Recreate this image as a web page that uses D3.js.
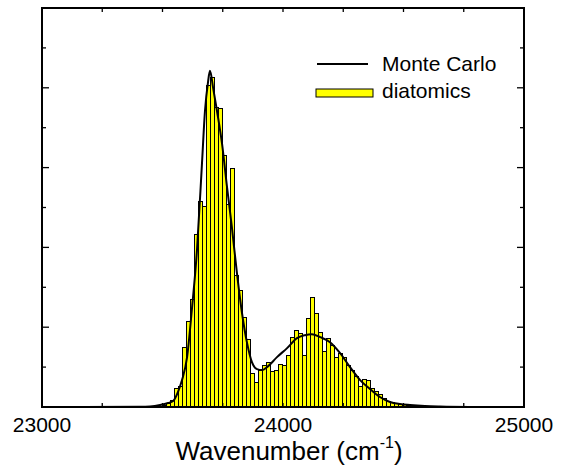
<!DOCTYPE html>
<html>
<head>
<meta charset="utf-8">
<script src="https://cdn.jsdelivr.net/npm/d3@7"></script>
<style>
  body { margin: 0; background: #fff; }
  svg { display: block; font-family: "Liberation Sans", Arial, sans-serif; }
</style>
</head>
<body>
<svg width="564" height="466"></svg>
<script>
// histogram of the diatomics (bin left edge + width, counts per bin)
const binStart = 23485;
const binWidth = 16.6;
const counts = [
  1, 2, 4, 7, 19, 21, 60, 86, 108, 173, 206, 201, 322, 330, 300, 299,
  252, 203, 239, 132, 117, 90, 68, 34, 25, 37, 42, 45, 36, 37, 43, 42,
  52, 70, 77, 74, 52, 89, 110, 94, 75, 56, 69, 62, 50, 54, 50, 42,
  37, 31, 21, 28, 27, 19, 16, 13, 9, 6, 5, 4, 3, 2.5, 2, 2,
  1.5, 1, 1, 0.8, 0.5, 0.5, 0.3
];

// Monte Carlo curve
const mcWavenumber = [
  23000, 23407, 23448, 23490, 23523, 23544, 23564, 23581, 23602, 23622,
  23643, 23664, 23676, 23689, 23697, 23710, 23726, 23747, 23768, 23788,
  23809, 23830, 23851, 23871, 23892, 23913, 23934, 23975, 24017, 24058,
  24091, 24120, 24154, 24195, 24237, 24278, 24320, 24361, 24402, 24444,
  24485, 24527, 24589, 24651, 24776, 25000
];
const mcIntensity = [
  0, 0.3, 0.6, 2, 4, 6, 15, 27, 50, 98,
  157, 245, 296, 326, 337, 320, 297, 264, 220, 180,
  134, 94, 64, 45, 38, 37, 40, 50, 59, 69,
  72, 73, 70, 65, 54, 40, 27, 18, 10, 5,
  3, 2, 1, 0.5, 0.1, 0
];

const xTicks = [23000, 23250, 23500, 23750, 24000, 24250, 24500, 24750, 25000];
const xTickLabels = [23000, 24000, 25000];
const yTicks = [0, 40, 80, 120, 160, 200, 240, 280, 320, 360, 400];

// plot box
const plotL = 42, plotR = 524, plotT = 8, plotB = 407;

const x = d3.scaleLinear().domain([23000, 25000]).range([plotL, plotR]);
const y = d3.scaleLinear().domain([0, 400]).range([plotB, plotT]);

const svg = d3.select("svg");

const bins = counts.map((c, i) => ({ x0: binStart + i * binWidth, x1: binStart + (i + 1) * binWidth, n: c }));

// bars
svg.append("g")
  .attr("shape-rendering", "crispEdges")
  .selectAll("rect")
  .data(bins)
  .join("rect")
  .attr("x", d => x(d.x0))
  .attr("y", d => y(d.n))
  .attr("width", d => x(d.x1) - x(d.x0))
  .attr("height", d => y(0) - y(d.n))
  .attr("fill", "#ffff00")
  .attr("stroke", "#000")
  .attr("stroke-width", 1);

// curve
const line = d3.line()
  .x((d, i) => x(mcWavenumber[i]))
  .y(d => y(d))
  .curve(d3.curveMonotoneX);

svg.append("path")
  .datum(mcIntensity)
  .attr("d", line)
  .attr("fill", "none")
  .attr("stroke", "#000")
  .attr("stroke-width", 2);

// frame
svg.append("rect")
  .attr("x", plotL).attr("y", plotT)
  .attr("width", plotR - plotL).attr("height", plotB - plotT)
  .attr("fill", "none")
  .attr("stroke", "#000")
  .attr("stroke-width", 2);

// ticks, all pointing inward
const ticks = svg.append("g").attr("stroke", "#000").attr("stroke-width", 1.3);
xTicks.forEach(t => {
  ticks.append("line").attr("x1", x(t)).attr("x2", x(t)).attr("y1", plotB).attr("y2", plotB - 4);
  ticks.append("line").attr("x1", x(t)).attr("x2", x(t)).attr("y1", plotT).attr("y2", plotT + 4);
});
yTicks.forEach((t, i) => {
  const len = i % 2 === 0 ? 7 : 4;
  ticks.append("line").attr("x1", plotL).attr("x2", plotL + len).attr("y1", y(t)).attr("y2", y(t));
  ticks.append("line").attr("x1", plotR).attr("x2", plotR - len).attr("y1", y(t)).attr("y2", y(t));
});

// tick labels
svg.append("g")
  .selectAll("text")
  .data(xTickLabels)
  .join("text")
  .attr("x", d => x(d))
  .attr("y", 432)
  .attr("text-anchor", "middle")
  .attr("font-size", 21)
  .text(d => d);

// axis title
const title = svg.append("text")
  .attr("x", 289)
  .attr("y", 460)
  .attr("text-anchor", "middle")
  .attr("font-size", 26);
title.append("tspan").text("Wavenumber (cm");
title.append("tspan").attr("font-size", 16).attr("dy", -12).text("-1");
title.append("tspan").attr("dy", 12).text(")");

// legend
const legend = svg.append("g");
legend.append("line")
  .attr("x1", 317).attr("x2", 368).attr("y1", 64).attr("y2", 64)
  .attr("stroke", "#000").attr("stroke-width", 1.8);
legend.append("text")
  .attr("x", 382).attr("y", 71)
  .attr("font-size", 21)
  .text("Monte Carlo");
legend.append("rect")
  .attr("x", 316).attr("y", 89).attr("width", 57).attr("height", 8)
  .attr("fill", "#ffff00").attr("stroke", "#000").attr("stroke-width", 1);
legend.append("text")
  .attr("x", 382).attr("y", 98)
  .attr("font-size", 21)
  .text("diatomics");
</script>
</body>
</html>
